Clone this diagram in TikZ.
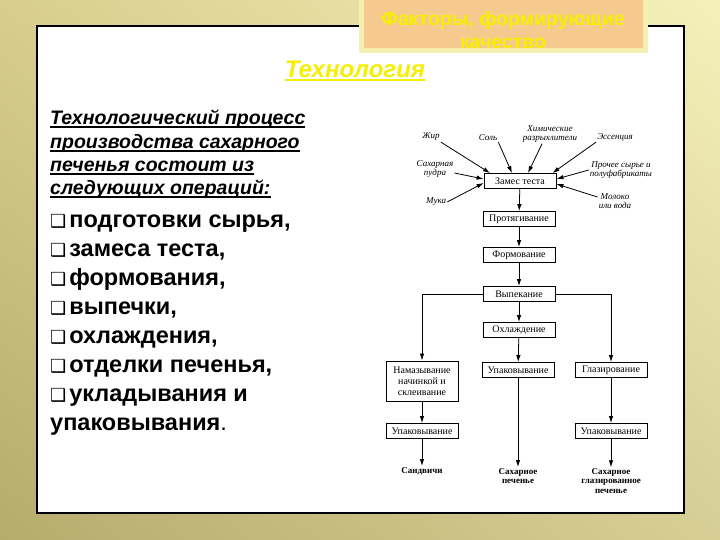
\documentclass[tikz,border=0pt]{standalone}
\usepackage{fontspec}
\setmainfont{Liberation Sans}
\newfontfamily\flowfont{Liberation Serif}
\newfontfamily\symfont{DejaVu Sans}
\usetikzlibrary{arrows.meta, positioning, shadings}

\definecolor{bgpale}{HTML}{F5F0BA}
\definecolor{bgkhaki}{HTML}{D8CD8C}
\definecolor{bgolive}{HTML}{B5AC6C}
\definecolor{bgsand}{HTML}{D6CE94}
\definecolor{peach}{HTML}{F6C98F}
\definecolor{paleframe}{HTML}{F3F0B0}
\definecolor{titleyellow}{HTML}{F6F000}

\newcommand{\qbox}{{\symfont\fontsize{18}{18}\selectfont ❑}\hspace{3pt}}
\newcommand{\uln}[1]{\setbox0\hbox{#1}\rlap{\rule[-2.8pt]{\wd0}{1.3pt}}\box0}

\begin{document}
\begin{tikzpicture}[x=1pt, y=-1pt,
    stage/.style={rectangle, draw, line width=0.9pt, fill=white, minimum width=72pt, minimum height=15pt, inner sep=1.5pt, font=\flowfont\fontsize{10}{11}\selectfont},
    ingr/.style={inner sep=1pt, align=center, font=\flowfont\itshape\fontsize{9}{9.5}\selectfont},
    result/.style={inner sep=1pt, align=center, font=\flowfont\bfseries\fontsize{9}{9.5}\selectfont},
    flow/.style={-{Latex[length=7pt, width=4.5pt]}, line width=0.8pt},
    headline/.style={anchor=base west, inner sep=0pt, font=\bfseries\itshape\fontsize{19.5}{19.5}\selectfont},
    item/.style={anchor=base west, inner sep=0pt, font=\bfseries\fontsize{23.5}{23.5}\selectfont}
]
\useasboundingbox (0,0) rectangle (720,540);
\shade[upper left=bgkhaki, upper right=bgpale, lower left=bgolive, lower right=bgsand] (0,0) rectangle (720,540);
\filldraw[fill=white, draw=black, line width=1.2pt] (37,26) rectangle (684,513);

% title box on top edge
\node[rectangle, draw=paleframe, line width=5pt, fill=peach, minimum width=284pt, minimum height=57pt] (factorsbox) at (503,22) {};
\node[align=center, text=titleyellow, font=\bfseries\fontsize{19.5}{23}\selectfont] (factors) at (503,30) {Факторы, формирующие\\качество};
\node[anchor=base, text=titleyellow, font=\bfseries\itshape\fontsize{24}{24}\selectfont] (techn) at (355,78) {\uln{Технология}};

% left text
\node[headline] (head1) at (50,125) {\uln{Технологический процесс}};
\node[headline] (head2) at (50,149) {\uln{производства сахарного}};
\node[headline] (head3) at (50,172) {\uln{печенья состоит из}};
\node[headline] (head4) at (50,195) {\uln{следующих операций:}};
\node[item] (op1) at (50,228) {\qbox подготовки сырья,};
\node[item] (op2) at (50,256) {\qbox замеса теста,};
\node[item] (op3) at (50,285) {\qbox формования,};
\node[item] (op4) at (50,314) {\qbox выпечки,};
\node[item] (op5) at (50,343) {\qbox охлаждения,};
\node[item] (op6) at (50,372) {\qbox отделки печенья,};
\node[item] (op7) at (50,401) {\qbox укладывания и};
\node[item] (op8) at (50,430) {упаковывания{\mdseries .}};

% flow chart
\node[stage] (zames) at (520,181) {Замес теста};
\node[stage] (protyag) at (519,219) {Протягивание};
\node[stage] (formov) at (519,255) {Формование};
\node[stage] (vypek) at (519,294) {Выпекание};
\node[stage] (okhl) at (519,330) {Охлаждение};
\node[stage, align=center, minimum height=40pt] (namaz) at (422,381) {Намазывание\\начинкой и\\склеивание};
\node[stage] (upakmid) at (518,370) {Упаковывание};
\node[stage] (glaz) at (611,370) {Глазирование};
\node[stage] (upakleft) at (422,431) {Упаковывание};
\node[stage] (upakright) at (611,431) {Упаковывание};
\node[result] (sandv) at (422,471) {Сандвичи};
\node[result] (sakhpech) at (518,476) {Сахарное\\печенье};
\node[result] (glazpech) at (611,481) {Сахарное\\глазированное\\печенье};

\node[ingr] (zhir) at (431,137) {Жир};
\node[ingr] (sol) at (488,138) {Соль};
\node[ingr] (khim) at (550,134) {Химические\\разрыхлители};
\node[ingr] (essen) at (615,137) {Эссенция};
\node[ingr] (pudra) at (435,169) {Сахарная\\пудра};
\node[ingr] (prochee) at (621,170) {Прочее сырье и\\полуфабрикаты};
\node[ingr] (muka) at (436,202) {Мука};
\node[ingr] (moloko) at (615,201) {Молоко\\или вода};

\draw[flow] (zhir.south east) -- ([xshift=-30pt]zames.north);
\draw[flow] (sol.south east) -- ([xshift=-8pt]zames.north);
\draw[flow] ([xshift=-8pt]khim.south) -- ([xshift=8pt]zames.north);
\draw[flow] (essen.south west) -- ([xshift=-4pt]zames.north east);
\draw[flow] ([yshift=-4pt]pudra.east) -- ([yshift=2pt]zames.west);
\draw[flow] (muka.east) -- ([yshift=-2pt]zames.west);
\draw[flow] (prochee.west) -- ([yshift=2pt]zames.east);
\draw[flow] ([yshift=-5pt]moloko.north west) -- ([yshift=-3pt]zames.east);

\draw[flow] (zames) -- (protyag);
\draw[flow] (protyag) -- (formov);
\draw[flow] (formov) -- (vypek);
\draw[flow] (vypek) -- (okhl);
\draw[flow] (okhl) -- (upakmid);
\draw[flow] (vypek.west) -| (namaz.north);
\draw[flow] (vypek.east) -| (glaz.north);
\draw[flow] (namaz) -- (upakleft);
\draw[flow] (glaz) -- (upakright);
\draw[flow] (upakleft) -- (sandv);
\draw[flow] (upakmid) -- (sakhpech);
\draw[flow] (upakright) -- (glazpech);
\end{tikzpicture}
\end{document}
